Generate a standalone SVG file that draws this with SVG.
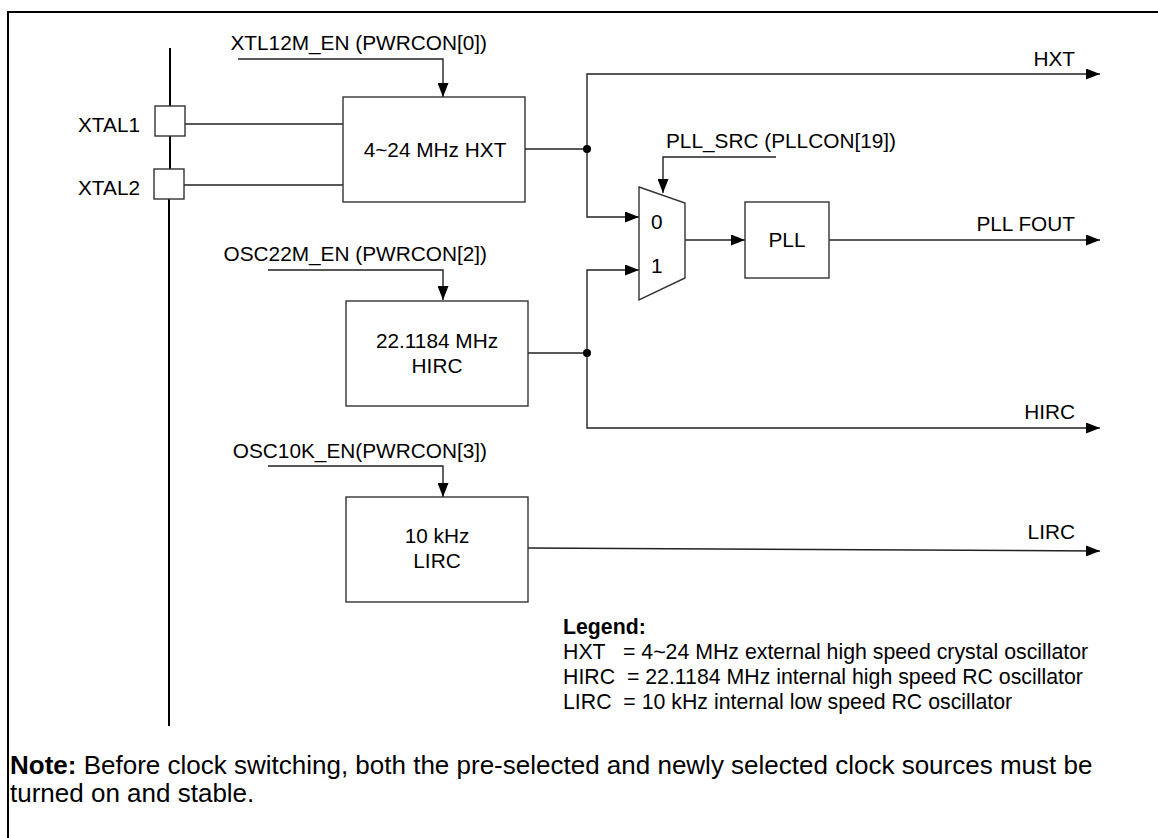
<svg xmlns="http://www.w3.org/2000/svg" width="1158" height="838" viewBox="0 0 1158 838">
<style>
text{font-family:"Liberation Sans",Arial,sans-serif;fill:#000}
.lbl{font-size:20.8px}
.leg{font-size:21.3px}
.note{font-size:26px}
.box{fill:#fff;stroke:#333;stroke-width:1.4}
.wire{fill:none;stroke:#222;stroke-width:1.4}
.frame{fill:none;stroke:#000;stroke-width:2}
</style>
<defs>
<marker id="arr" markerUnits="userSpaceOnUse" markerWidth="14" markerHeight="11" refX="14" refY="5.5" orient="auto">
<path d="M0,0 L14,5.5 L0,11 z" fill="#000"/>
</marker>
</defs>
<rect width="1158" height="838" fill="#fff"/>
<g id="frame">
<path class="frame" d="M8,838 V12 H1158"/>
</g>
<g id="connectors">
<path class="frame" d="M170,48 V106 M170,136 V169 M169,199 V726"/>
<path class="wire" d="M185,124 H343"/>
<path class="wire" d="M184,185 H343"/>
<path class="wire" d="M238,59 H443 V97" marker-end="url(#arr)"/>
<path class="wire" d="M268,270 H443 V300" marker-end="url(#arr)"/>
<path class="wire" d="M268,466 H443 V497" marker-end="url(#arr)"/>
<path class="wire" d="M776,157 H663 V193" marker-end="url(#arr)"/>
<path class="wire" d="M525,149 H587"/>
<path class="wire" d="M587,149 V74 H1100" marker-end="url(#arr)"/>
<path class="wire" d="M587,149 V217 H639" marker-end="url(#arr)"/>
<path class="wire" d="M528,353 H587"/>
<path class="wire" d="M587,353 V270 H639" marker-end="url(#arr)"/>
<path class="wire" d="M587,353 V428 H1100" marker-end="url(#arr)"/>
<path class="wire" d="M685,240 H745" marker-end="url(#arr)"/>
<path class="wire" d="M829,240 H1100" marker-end="url(#arr)"/>
<path class="wire" d="M528,548 L1100,551" marker-end="url(#arr)"/>
<circle cx="587" cy="149" r="4" fill="#000"/>
<circle cx="587" cy="353" r="4" fill="#000"/>
</g>
<g id="xtal1">
<rect class="box" x="155" y="106" width="30" height="30"/>
<text class="lbl" x="78" y="132">XTAL1</text>
</g>
<g id="xtal2">
<rect class="box" x="154" y="169" width="30" height="30"/>
<text class="lbl" x="78" y="195">XTAL2</text>
</g>
<g id="xtl12m_en">
<text class="lbl" x="487" y="50" text-anchor="end">XTL12M_EN (PWRCON[0])</text>
</g>
<g id="hxt">
<rect class="box" x="343" y="97" width="182" height="105"/>
<text class="lbl" x="435" y="157" text-anchor="middle">4~24 MHz HXT</text>
</g>
<g id="osc22m_en">
<text class="lbl" x="487" y="261" text-anchor="end">OSC22M_EN (PWRCON[2])</text>
</g>
<g id="hirc">
<rect class="box" x="346" y="301" width="182" height="105"/>
<text class="lbl" x="437" y="348" text-anchor="middle">22.1184 MHz</text>
<text class="lbl" x="437" y="373" text-anchor="middle">HIRC</text>
</g>
<g id="osc10k_en">
<text class="lbl" x="487" y="458" text-anchor="end">OSC10K_EN(PWRCON[3])</text>
</g>
<g id="lirc">
<rect class="box" x="346" y="497" width="182" height="105"/>
<text class="lbl" x="437" y="543" text-anchor="middle">10 kHz</text>
<text class="lbl" x="437" y="568" text-anchor="middle">LIRC</text>
</g>
<g id="pll_src">
<text class="lbl" x="666" y="148">PLL_SRC (PLLCON[19])</text>
</g>
<g id="mux">
<path class="box" d="M639,187 L685,203 L685,278 L639,300 z"/>
<text class="lbl" x="651" y="229">0</text>
<text class="lbl" x="651" y="273">1</text>
</g>
<g id="pll">
<rect class="box" x="745" y="202" width="84" height="76"/>
<text class="lbl" x="787" y="247" text-anchor="middle">PLL</text>
</g>
<g id="outputs">
<text class="lbl" x="1075" y="66" text-anchor="end">HXT</text>
<text class="lbl" x="1075" y="231" text-anchor="end">PLL FOUT</text>
<text class="lbl" x="1075" y="419" text-anchor="end">HIRC</text>
<text class="lbl" x="1075" y="539" text-anchor="end">LIRC</text>
</g>
<g id="legend">
<text class="leg" x="563" y="634" font-weight="bold">Legend:</text>
<text class="leg" x="563" y="659" xml:space="preserve">HXT   = 4~24 MHz external high speed crystal oscillator</text>
<text class="leg" x="563" y="684" xml:space="preserve">HIRC  = 22.1184 MHz internal high speed RC oscillator</text>
<text class="leg" x="563" y="709" xml:space="preserve">LIRC  = 10 kHz internal low speed RC oscillator</text>
</g>
<g id="note">
<text class="note" x="10" y="774"><tspan font-weight="bold">Note:</tspan> Before clock switching, both the pre-selected and newly selected clock sources must be</text>
<text class="note" x="10" y="802">turned on and stable.</text>
</g>
</svg>
